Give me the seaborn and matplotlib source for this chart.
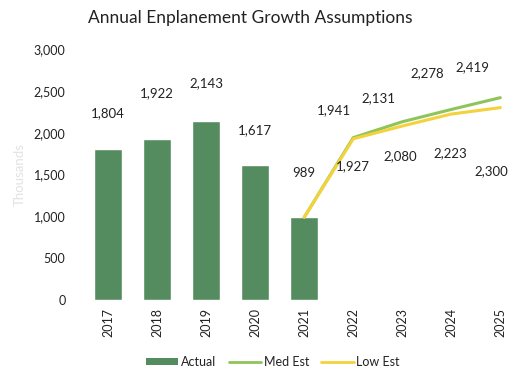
import matplotlib
matplotlib.use("Agg")
import matplotlib.pyplot as plt
from matplotlib.lines import Line2D
from matplotlib.patches import Patch
import pandas as pd
import seaborn as sns

# Enplanements in thousands
years = ["2017", "2018", "2019", "2020", "2021", "2022", "2023", "2024", "2025"]
actual_years = ["2017", "2018", "2019", "2020", "2021"]
actual = [1804, 1922, 2143, 1617, 989]
forecast_years = ["2021", "2022", "2023", "2024", "2025"]
med_est = [989, 1941, 2131, 2278, 2419]
low_est = [989, 1927, 2080, 2223, 2300]
y_ticks = [0, 500, 1000, 1500, 2000, 2500, 3000]

# label offsets (points) for the value annotations, measured to the text centre
actual_offsets = [(0, 26), (0, 33), (0, 27), (0, 25), (0, 32)]
med_offsets = [None, (-14, 20), (-17, 17), (-17, 26), (-20, 22)]
low_offsets = [None, (0, -20), (-1.5, -22), (-1, -28), (-6.5, -46)]

BAR = "#558c5f"
MED = "#8fc45a"
LOW = "#f3d23c"
TXT = "#222222"

sns.set_theme(style="white")
plt.rcParams["font.family"] = ["Lato", "DejaVu Sans"]

fig = plt.figure(figsize=(5.10, 3.69), dpi=100)
ax = fig.add_axes([0.164, 0.187, 0.865, 0.680])

bars = pd.DataFrame({"year": actual_years, "value": actual})
sns.barplot(data=bars, x="year", y="value", order=years, color=BAR,
            saturation=1, width=0.57, ax=ax)

pos = {y: i for i, y in enumerate(years)}
lines = pd.DataFrame({
    "pos": [pos[y] for y in forecast_years] * 2,
    "value": med_est + low_est,
    "series": ["Med Est"] * len(med_est) + ["Low Est"] * len(low_est),
})
sns.lineplot(data=lines, x="pos", y="value", hue="series",
             palette={"Med Est": MED, "Low Est": LOW},
             hue_order=["Med Est", "Low Est"], linewidth=2.2,
             legend=False, ax=ax)


def label_points(xs, vals, offsets):
    for y, v, off in zip(xs, vals, offsets):
        if off is None:
            continue
        ax.annotate(f"{v:,}", (pos[y], v), xytext=off,
                    textcoords="offset points", ha="center", va="center",
                    fontsize=9.5, color=TXT)


label_points(actual_years, actual, actual_offsets)
label_points(forecast_years, med_est, med_offsets)
label_points(forecast_years, low_est, low_offsets)

ax.set_xlim(-0.5, len(years) - 0.5)
ax.set_ylim(0, 3000)
ax.set_yticks(y_ticks)
ax.set_yticklabels([f"{t:,}" for t in y_ticks])
ax.set_xticks(range(len(years)))
ax.set_xticklabels(years, rotation=90)
ax.tick_params(axis="y", length=0, pad=13, labelsize=9, labelcolor=TXT)
ax.tick_params(axis="x", length=0, pad=6, labelsize=9, labelcolor=TXT)
ax.set_xlabel("")
ax.set_ylabel("Thousands", fontsize=9.5, color="#e2e2e2", labelpad=6)
for s in ax.spines.values():
    s.set_visible(False)

fig.text(0.49, 0.951, "Annual Enplanement Growth Assumptions",
         ha="center", va="center", fontsize=12.5, color=TXT)

handles = [Patch(facecolor=BAR, edgecolor="none"),
           Line2D([], [], color=MED, linewidth=2),
           Line2D([], [], color=LOW, linewidth=2)]
fig.legend(handles, ["Actual", "Med Est", "Low Est"], loc="center",
           bbox_to_anchor=(0.535, 0.019), ncol=3, frameon=False,
           fontsize=9, handlelength=2.6, handleheight=0.5,
           columnspacing=1.0, handletextpad=0.2, labelcolor=TXT)

fig.savefig("out.png", dpi=100)
